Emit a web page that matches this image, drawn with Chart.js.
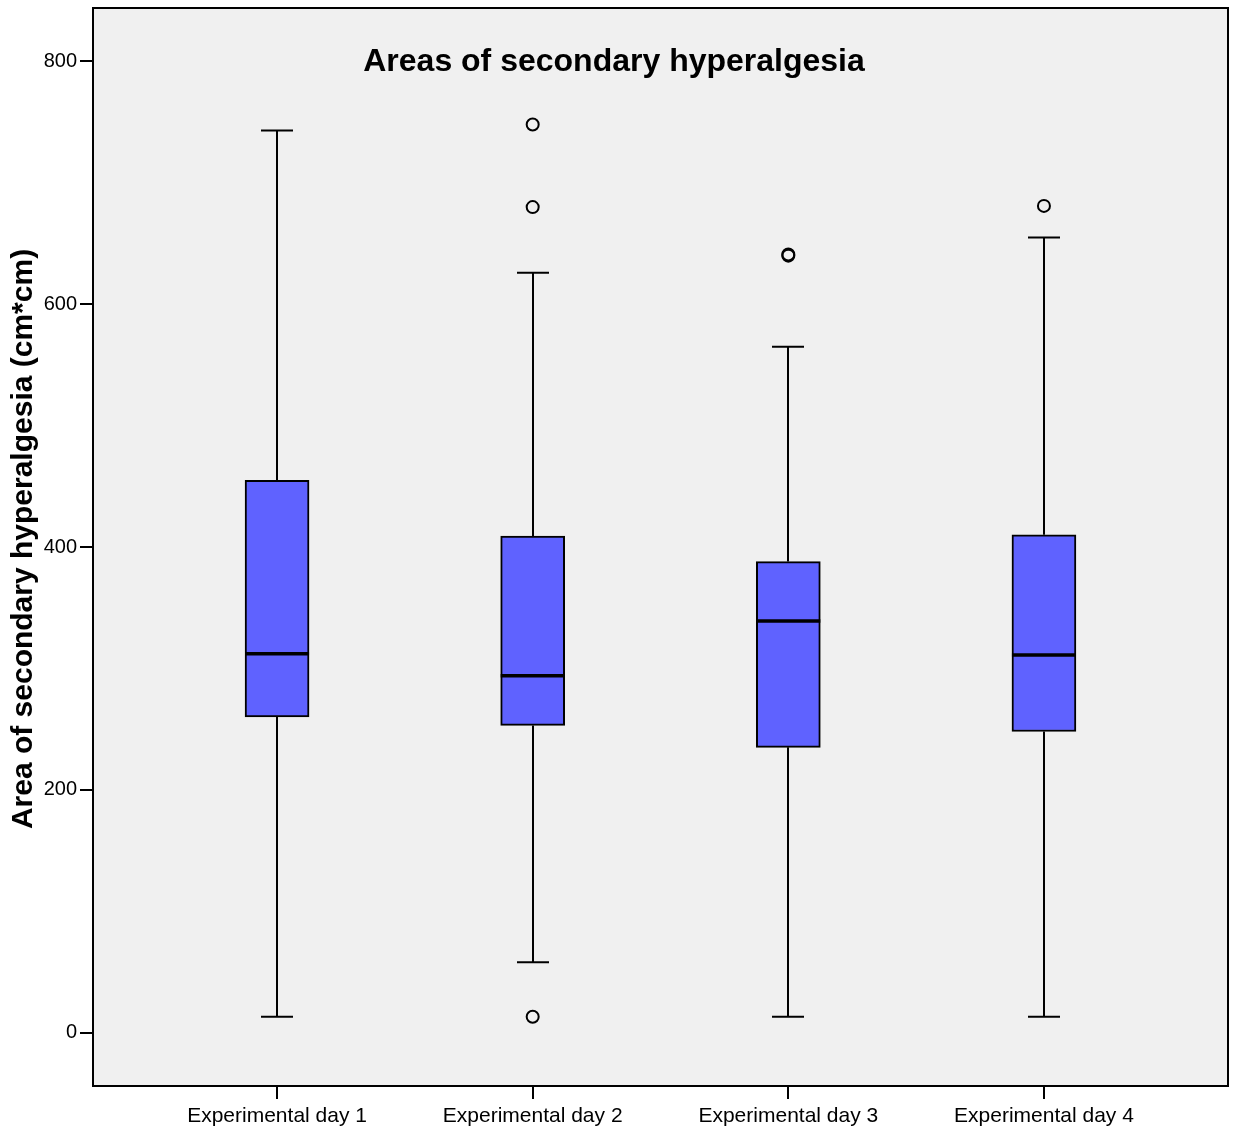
<!DOCTYPE html>
<html>
<head>
<meta charset="utf-8">
<script src="https://cdn.jsdelivr.net/npm/chart.js@4.4.1/dist/chart.umd.min.js"></script>
<style>
  html, body { margin: 0; padding: 0; background: #ffffff; }
  #wrap { width: 1236px; height: 1127px; }
</style>
</head>
<body>
<div id="wrap"><canvas id="c" width="1236" height="1127"></canvas></div>
<script>
// Five-number summaries per experimental day
const categories = ['Experimental day 1', 'Experimental day 2', 'Experimental day 3', 'Experimental day 4'];
const whiskerLow  = [13, 58, 13, 13];
const quartile1   = [260, 253, 235, 248];
const medians     = [312, 294, 339, 311];
const quartile3   = [455, 409, 388, 410];
const whiskerHigh = [743, 626, 565, 655];
// Outliers: [day index (1-based), value]
const outlierDay   = [2, 2, 2, 3, 3, 4];
const outlierValue = [748, 680, 13, 641, 640, 681];
const yTicks = [0, 200, 400, 600, 800];

const FONT = 'Arial, "Liberation Sans", sans-serif';

const boxData = categories.map((_, i) => ({ x: i + 1, y: [quartile1[i], quartile3[i]] }));
const outlierData = outlierDay.map((d, i) => ({ x: d, y: outlierValue[i] }));

const frame = {
  id: 'frame',
  beforeDraw(chart) {
    const { ctx, chartArea: a } = chart;
    ctx.save();
    ctx.fillStyle = '#f0f0f0';
    ctx.fillRect(a.left, a.top, a.right - a.left, a.bottom - a.top);
    ctx.restore();
  },
  afterDraw(chart) {
    const { ctx, chartArea: a } = chart;
    ctx.save();
    ctx.strokeStyle = '#000';
    ctx.lineWidth = 2;
    ctx.strokeRect(a.left, a.top, a.right - a.left, a.bottom - a.top);
    ctx.fillStyle = '#000';
    ctx.textAlign = 'center';
    ctx.textBaseline = 'middle';
    // chart title inside the plot area
    ctx.font = 'bold 32px ' + FONT;
    ctx.fillText('Areas of secondary hyperalgesia', 614, 62);
    // vertical axis title
    ctx.translate(24, 539);
    ctx.rotate(-Math.PI / 2);
    ctx.font = 'bold 30px ' + FONT;
    ctx.fillText('Area of secondary hyperalgesia (cm*cm)', 0, 0);
    ctx.restore();
  }
};

// whiskers, caps and median lines drawn from the scales
const boxParts = {
  id: 'boxParts',
  beforeDatasetsDraw(chart) {
    const { ctx } = chart;
    const xs = chart.scales.x, ys = chart.scales.y;
    ctx.save();
    ctx.strokeStyle = '#000';
    ctx.lineWidth = 2;
    categories.forEach((_, i) => {
      const cx = Math.round(xs.getPixelForValue(i + 1));
      const cap = 16;
      const yLo = ys.getPixelForValue(whiskerLow[i]);
      const yQ1 = ys.getPixelForValue(quartile1[i]);
      const yQ3 = ys.getPixelForValue(quartile3[i]);
      const yHi = ys.getPixelForValue(whiskerHigh[i]);
      ctx.beginPath();
      ctx.moveTo(cx, yQ1); ctx.lineTo(cx, yLo);
      ctx.moveTo(cx, yQ3); ctx.lineTo(cx, yHi);
      ctx.moveTo(cx - cap, yLo); ctx.lineTo(cx + cap, yLo);
      ctx.moveTo(cx - cap, yHi); ctx.lineTo(cx + cap, yHi);
      ctx.stroke();
    });
    ctx.restore();
  },
  afterDatasetsDraw(chart) {
    const { ctx } = chart;
    const xs = chart.scales.x, ys = chart.scales.y;
    ctx.save();
    ctx.strokeStyle = '#000';
    ctx.lineWidth = 3.5;
    categories.forEach((_, i) => {
      const cx = xs.getPixelForValue(i + 1);
      const ym = ys.getPixelForValue(medians[i]);
      ctx.beginPath();
      ctx.moveTo(cx - 32, ym); ctx.lineTo(cx + 32, ym);
      ctx.stroke();
    });
    ctx.restore();
  }
};

new Chart(document.getElementById('c'), {
  type: 'bar',
  data: {
    datasets: [
      {
        type: 'bar',
        data: boxData,
        backgroundColor: '#5f62ff',
        borderColor: '#000',
        borderWidth: 2,
        borderSkipped: false,
        barThickness: 64,
        order: 2
      },
      {
        type: 'scatter',
        data: outlierData,
        pointStyle: 'circle',
        pointRadius: 6,
        pointBackgroundColor: 'rgba(0,0,0,0)',
        pointBorderColor: '#000',
        pointBorderWidth: 2,
        order: 1
      }
    ]
  },
  options: {
    responsive: false,
    animation: false,
    layout: { padding: { top: 8, right: 4, left: 0, bottom: 0 } },
    plugins: { legend: { display: false }, tooltip: { enabled: false }, title: { display: false } },
    scales: {
      x: {
        type: 'linear',
        offset: false,
        min: 0.28,
        max: 4.72,
        afterBuildTicks(scale) { scale.ticks = categories.map((_, i) => ({ value: i + 1 })); },
        afterFit(scale) { scale.height = 41; scale.paddingLeft = 0; scale.paddingRight = 0; },
        ticks: {
          callback: (v) => categories[v - 1] || '',
          color: '#000',
          font: { family: FONT, size: 21 },
          padding: 5,
          maxRotation: 0,
          autoSkip: false
        },
        grid: { offset: false, drawOnChartArea: false, drawTicks: true, tickLength: 13, color: '#000', lineWidth: 2 },
        border: { display: false }
      },
      y: {
        type: 'linear',
        min: -44,
        max: 844,
        afterBuildTicks(scale) { scale.ticks = yTicks.map(v => ({ value: v })); },
        afterFit(scale) { scale.width = 93; scale.paddingTop = 0; scale.paddingBottom = 0; },
        ticks: {
          color: '#000',
          font: { family: FONT, size: 20 },
          padding: 3
        },
        grid: { drawOnChartArea: false, drawTicks: true, tickLength: 13, color: '#000', lineWidth: 2 },
        border: { display: false },
        title: { display: false }
      }
    }
  },
  plugins: [frame, boxParts]
});
</script>
</body>
</html>
